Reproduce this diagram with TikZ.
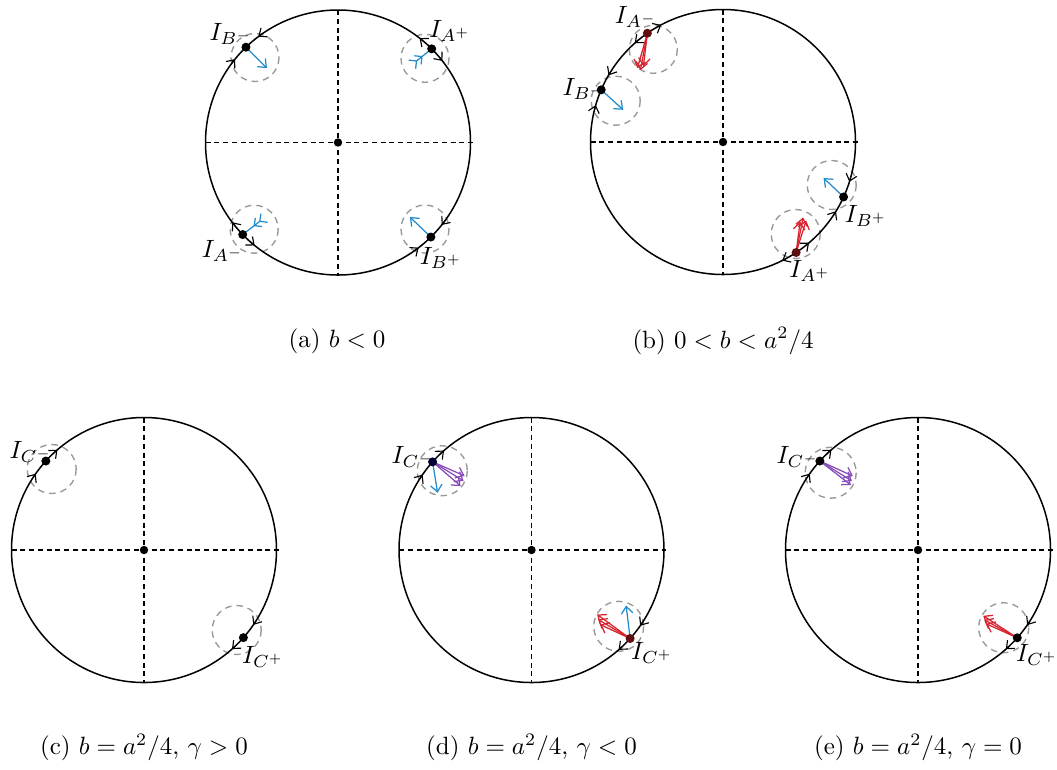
\documentclass[tikz,border=0pt]{standalone}
\usetikzlibrary{calc,arrows.meta}
\definecolor{vblue}{RGB}{35,140,205}
\definecolor{vred}{RGB}{215,35,45}
\definecolor{vpurp}{RGB}{135,75,185}
\definecolor{dred}{RGB}{95,15,15}
\newcommand{\Rr}{132.5}
% point on circle: name, centre, math angle
\newcommand{\ptc}[3]{\coordinate (#1) at ($(#2)+({-(#3)}:\Rr)$);}
% flow arrows on circle
\newcommand{\flowin}[2]{%
 \draw[flowtip] ($(#1)+({-(#2+9)}:\Rr)$) -- ($(#1)+({-(#2+7)}:\Rr)$);
 \draw[flowtip] ($(#1)+({-(#2-9)}:\Rr)$) -- ($(#1)+({-(#2-7)}:\Rr)$);}
\newcommand{\flowout}[2]{%
 \draw[flowtip] ($(#1)+({-(#2+5)}:\Rr)$) -- ($(#1)+({-(#2+7)}:\Rr)$);
 \draw[flowtip] ($(#1)+({-(#2-5)}:\Rr)$) -- ($(#1)+({-(#2-7)}:\Rr)$);}
\newcommand{\flowthru}[2]{%
 \draw[flowtip] ($(#1)+({-(#2+9)}:\Rr)$) -- ($(#1)+({-(#2+7)}:\Rr)$);
 \draw[flowtip] ($(#1)+({-(#2-5)}:\Rr)$) -- ($(#1)+({-(#2-7)}:\Rr)$);}
% disc with axes
\newcommand{\disc}[1]{%
 \draw[circ] (#1) circle (\Rr);
 \draw[axis] ($(#1)+(-\Rr,0)$) -- ($(#1)+(\Rr+2,0)$);
 \draw[axis] ($(#1)+(0,-\Rr)$) -- ($(#1)+(0,\Rr)$);
 \fill (#1) circle (4.2);}
\begin{document}
\begin{tikzpicture}[x=0.4pt,y=-0.4pt,
 circ/.style={line width=0.6pt},
 axis/.style={dash pattern=on 2pt off 1.5pt, line width=0.5pt},
 nbhd/.style={draw=black!40, dash pattern=on 2.6pt off 2pt, line width=0.55pt},
 flowtip/.style={-{Straight Barb[length=2.6pt,width=4.4pt]}, line width=0.45pt},
 vec/.style={-{Straight Barb[length=2.8pt,width=4.6pt]}, line width=0.5pt},
 rvec/.style={-{Straight Barb[reversed,length=2.2pt,width=4.4pt]Straight Barb[reversed,length=2.2pt,width=4.4pt]}, line width=0.5pt},
 lab/.style={font=\normalsize, inner sep=0pt},
 captext/.style={font=\normalsize, inner sep=0pt}]
\useasboundingbox (0,0) rectangle (1057,769);

% ---------- (a) ----------
\coordinate (ca) at (338,142.5);
\ptc{aBm}{ca}{134} \ptc{aAp}{ca}{45} \ptc{aAm}{ca}{224} \ptc{aBp}{ca}{-45.5}
\draw[nbhd] (255,57.5) circle (24);
\draw[nbhd] (425,58.3) circle (24);
\draw[nbhd] (254.2,229.2) circle (24);
\draw[nbhd] (425,229) circle (24);
\disc{ca}
\draw[vec, vblue] (aBm) -- ++(21,21);
\draw[rvec, vblue] (aAp) -- ++(-20,16);
\draw[rvec, vblue] (aAm) -- ++(22,-17);
\draw[vec, vblue] (aBp) -- ++(-21,-20);
\flowin{ca}{134} \flowout{ca}{45} \flowout{ca}{224} \flowin{ca}{-45.5}
\foreach \p in {aBm,aAp,aAm,aBp} \fill (\p) circle (4.5);
\node[lab] (laBm) at (231,34) {$I_{B^-}$};
\node[lab] (laAp) at (450,31) {$I_{A^+}$};
\node[lab] (laAm) at (223,251) {$I_{A^-}$};
\node[lab] (laBp) at (441,258) {$I_{B^+}$};
\node[captext] (capa) at (337,341) {(a)\ $b<0$};

% ---------- (b) ----------
\coordinate (cb) at (723,142);
\ptc{bAm}{cb}{124.8} \ptc{bBm}{cb}{156.8} \ptc{bBp}{cb}{-24.5} \ptc{bAp}{cb}{-56.5}
\draw[nbhd] (653.3,49.3) circle (24);
\draw[nbhd] (615.7,100.7) circle (24.5);
\draw[nbhd] (831.7,185) circle (24.5);
\draw[nbhd] (795.7,234) circle (24.5);
\disc{cb}
\draw[vec, vred] (bAm) -- ++(-10,35);
\draw[vec, vred] (bAm) -- ++(-7,37);
\draw[vec, vred] (bAm) -- ++(-4,33);
\draw[vec, vred] (bAp) -- ++(7,-35);
\draw[vec, vred] (bAp) -- ++(10,-32);
\draw[vec, vred] (bAp) -- ++(4,-31);
\draw[vec, vblue] (bBm) -- ++(22,20);
\draw[vec, vblue] (bBp) -- ++(-20,-19);
\flowout{cb}{124.8} \flowin{cb}{156.8} \flowin{cb}{-24.5} \flowout{cb}{-56.5}
\fill[dred] (bAm) circle (4.5);
\fill[dred] (bAp) circle (4.5);
\fill (bBm) circle (4.5);
\fill (bBp) circle (4.5);
\node[lab] (lbAm) at (636,17) {$I_{A^-}$};
\node[lab] (lbBm) at (584,89) {$I_{B^-}$};
\node[lab] (lbBp) at (866,216) {$I_{B^+}$};
\node[lab] (lbAp) at (810,271) {$I_{A^+}$};
\node[captext] (capb) at (723,341) {(b)\ $0<b<a^2/4$};

% ---------- (c) ----------
\coordinate (cc) at (144,550);
\ptc{cCm}{cc}{137.8} \ptc{cCp}{cc}{-41.4}
\draw[nbhd] (51.7,469) circle (24.5);
\draw[nbhd] (236.7,630) circle (24.5);
\disc{cc}
\flowthru{cc}{137.8} \flowthru{cc}{-41.4}
\fill (cCm) circle (4.5);
\fill (cCp) circle (4.5);
\node[lab] (lcCm) at (31,452) {$I_{C^-}$};
\node[lab] (lcCp) at (263,657) {$I_{C^+}$};
\node[captext] (capc) at (144,747) {(c)\ $b=a^2/4$, $\gamma>0$};

% ---------- (d) ----------
\coordinate (cd) at (531.5,550);
\ptc{dCm}{cd}{138.3} \ptc{dCp}{cd}{-41.9}
\draw[nbhd] (442.3,470.7) circle (25);
\draw[nbhd] (618.7,626.3) circle (25);
\disc{cd}
\draw[vec, vblue] (dCm) -- ++(5,31);
\draw[vec, vpurp] (dCm) -- ++(32,14);
\draw[vec, vpurp] (dCm) -- ++(31,19);
\draw[vec, vpurp] (dCm) -- ++(28,24);
\draw[vec, vblue] (dCp) -- ++(-4,-33);
\draw[vec, vred] (dCp) -- ++(-33,-24);
\draw[vec, vred] (dCp) -- ++(-32,-19);
\draw[vec, vred] (dCp) -- ++(-30,-14);
\flowthru{cd}{138.3} \flowthru{cd}{-41.9}
\fill[black!80!blue] (dCm) circle (4.5);
\fill[dred] (dCp) circle (4.5);
\node[lab] (ldCm) at (413,457) {$I_{C^-}$};
\node[lab] (ldCp) at (652,653) {$I_{C^+}$};
\node[captext] (capd) at (531.5,747) {(d)\ $b=a^2/4$, $\gamma<0$};

% ---------- (e) ----------
\coordinate (ce) at (918,550);
\ptc{eCm}{ce}{137.8} \ptc{eCp}{ce}{-41.5}
\draw[nbhd] (830.7,472.7) circle (25.5);
\draw[nbhd] (1003.7,627.7) circle (25);
\disc{ce}
\draw[vec, vpurp] (eCm) -- ++(33,15);
\draw[vec, vpurp] (eCm) -- ++(32,20);
\draw[vec, vpurp] (eCm) -- ++(31,24);
\draw[vec, vred] (eCp) -- ++(-34,-22);
\draw[vec, vred] (eCp) -- ++(-33,-18);
\draw[vec, vred] (eCp) -- ++(-31,-14);
\flowthru{ce}{137.8} \flowthru{ce}{-41.5}
\fill (eCm) circle (4.5);
\fill (eCp) circle (4.5);
\node[lab] (leCm) at (798,457) {$I_{C^-}$};
\node[lab] (leCp) at (1037,655) {$I_{C^+}$};
\node[captext] (cape) at (918,747) {(e)\ $b=a^2/4$, $\gamma=0$};
\end{tikzpicture}
\end{document}
